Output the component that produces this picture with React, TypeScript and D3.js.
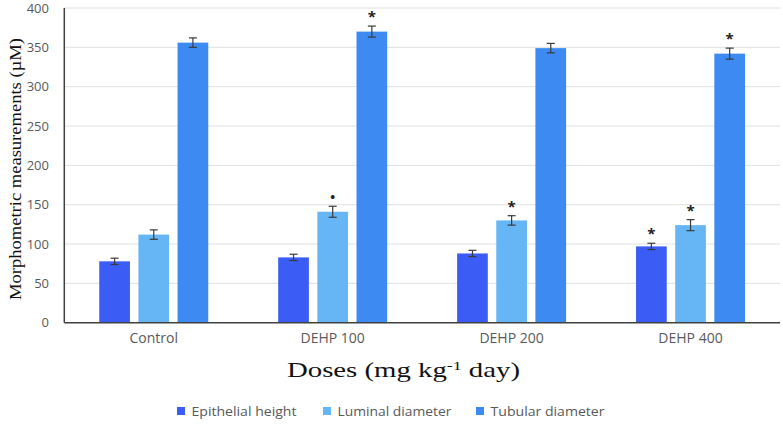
import React from "react";
import * as d3 from "d3";

const categories = ["Control", "DEHP 100", "DEHP 200", "DEHP 400"];
const seriesNames = ["Epithelial height", "Luminal diameter", "Tubular diameter"];
const epithelial = [78, 83, 88, 97];
const luminal = [112, 141, 130, 124];
const tubular = [356, 370, 349, 342];
const epithelialErr = [4, 4, 4, 4];
const luminalErr = [6, 7, 6, 7];
const tubularErr = [6, 7, 6, 7];
const epithelialMark = ["", "", "", "*"];
const luminalMark = ["", "•", "*", "*"];
const tubularMark = ["", "*", "", "*"];
const yTicks = [0, 50, 100, 150, 200, 250, 300, 350, 400];
const colors = ["#3b5cf5", "#66b5f5", "#3d8af2"];

const values = [epithelial, luminal, tubular];
const errs = [epithelialErr, luminalErr, tubularErr];
const marks = [epithelialMark, luminalMark, tubularMark];

export default function App() {
  const W = 783, H = 426;
  const left = 64.3, right = 780, top = 8, bottom = 322.7;
  const y = d3.scaleLinear().domain([0, 400]).range([bottom, top]);
  const x0 = d3.scaleBand().domain(categories).range([left, right]).padding(0);
  const bw = x0.bandwidth();
  const groupW = 109;
  const x1 = d3.scaleBand().domain(seriesNames).range([bw / 2 - groupW / 2, bw / 2 + groupW / 2]).paddingInner(0.216).paddingOuter(0);
  const tickColor = "#595959";
  const sans = "'Open Sans', 'DejaVu Sans', sans-serif";
  const serif = "'Liberation Serif', 'DejaVu Serif', serif";
  const legendX = [177, 323, 476];
  const legendLen = [105, 114, 114];

  return (
    <svg width={W} height={H} style={{ position: "absolute", left: 0, top: 0, background: "#fff" }}>
      {yTicks.map((t) => (
        <g key={t}>
          {t > 0 && <line x1={left} x2={right} y1={y(t)} y2={y(t)} stroke="#e0e0e0" strokeWidth={1} />}
          <text x={49} y={y(t)} dy="0.36em" textAnchor="end" fontFamily={sans} fontSize={13} fill={tickColor}>{t}</text>
        </g>
      ))}
      {categories.map((c, ci) => (
        <g key={c} transform={`translate(${x0(c)},0)`}>
          {seriesNames.map((s, si) => {
            const v = values[si][ci];
            const e = errs[si][ci];
            const bx = x1(s)!;
            const cx = bx + x1.bandwidth() / 2;
            return (
              <g key={s}>
                <rect x={bx} y={y(v)} width={x1.bandwidth()} height={y(0) - y(v)} fill={colors[si]} />
                <line x1={cx} x2={cx} y1={y(v + e)} y2={y(v - e)} stroke="#3a3a3a" strokeWidth={1.2} />
                <line x1={cx - 4} x2={cx + 4} y1={y(v + e)} y2={y(v + e)} stroke="#3a3a3a" strokeWidth={1.2} />
                <line x1={cx - 4} x2={cx + 4} y1={y(v - e)} y2={y(v - e)} stroke="#3a3a3a" strokeWidth={1.2} />
                {marks[si][ci] && (
                  <text x={cx} y={y(v + e) - 4} textAnchor="middle" fontFamily={sans} fontWeight="bold" fontSize={marks[si][ci] === "*" ? 15 : 13} fill="#222">{marks[si][ci]}</text>
                )}
              </g>
            );
          })}
          <text x={bw / 2} y={343} textAnchor="middle" fontFamily={sans} fontSize={14} fill={tickColor}>{c}</text>
        </g>
      ))}
      <line x1={left} x2={left} y1={top} y2={bottom} stroke="#404040" strokeWidth={1.5} />
      <line x1={left} x2={right} y1={bottom} y2={bottom} stroke="#404040" strokeWidth={1.5} />
      <text transform={`translate(15,${169}) rotate(-90)`} textAnchor="middle" dy="0.35em" fontFamily={serif} fontSize={16.5} textLength={262} lengthAdjust="spacingAndGlyphs" fill="#111">Morphometric measurements (µM)</text>
      <text x={403.5} y={377} textAnchor="middle" fontFamily={serif} fontSize={21} textLength={233} lengthAdjust="spacingAndGlyphs" fill="#111">
        Doses (mg kg<tspan dy={-7} fontSize={13}>-1</tspan><tspan dy={7}> day)</tspan>
      </text>
      {seriesNames.map((s, i) => (
        <g key={s}>
          <rect x={legendX[i]} y={407} width={8} height={8} fill={colors[i]} />
          <text x={legendX[i] + 14.5} y={411} dy="0.36em" fontFamily={sans} fontSize={13} textLength={legendLen[i]} lengthAdjust="spacingAndGlyphs" fill={tickColor}>{s}</text>
        </g>
      ))}
    </svg>
  );
}
